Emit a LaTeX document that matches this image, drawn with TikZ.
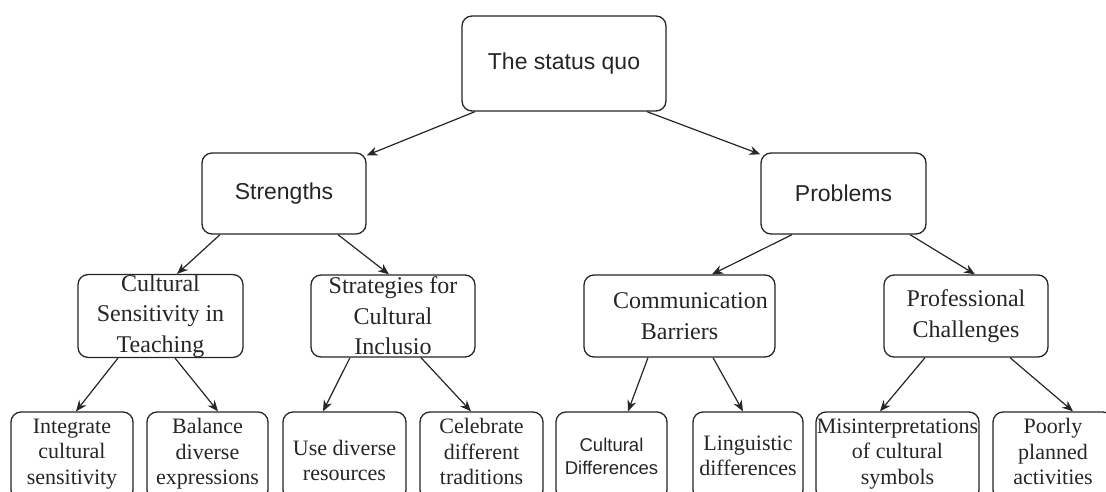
\documentclass[tikz,border=0pt]{standalone}
\usepackage{fontspec}
\setmainfont{Liberation Serif}
\newfontfamily\arialf{Liberation Sans}
\usetikzlibrary{arrows.meta}
\begin{document}
\begin{tikzpicture}[x=1pt,y=-1pt,
  box/.style={draw=black!85, line width=1.3pt, rounded corners=10pt, inner sep=0pt, align=center, text=black!85},
  lvlA/.style={box, font=\arialf\fontsize{23}{28}\selectfont},
  lvlB/.style={box, font=\fontsize{24}{30.5}\selectfont},
  lvlC/.style={box, font=\fontsize{22}{25.5}\selectfont, minimum height=88pt},
  arr/.style={-{Stealth[length=11pt,width=9pt]}, line width=1.2pt, draw=black!85}]
\useasboundingbox (0,0) rectangle (1106,492);
\fill[white] (0,0) rectangle (1106,492);
% level 0 and 1
\node[lvlA, minimum width=204pt, minimum height=95pt] (top) at (564,63.5) {The status quo};
\node[lvlA, minimum width=164pt, minimum height=81pt] (str) at (284,193.5) {Strengths};
\node[lvlA, minimum width=165pt, minimum height=81pt] (prob) at (843.5,193.5) {Problems};
% level 2
\node[lvlB, minimum width=165pt, minimum height=82pt] (cs) at (160.5,316) {Cultural\\Sensitivity in\\Teaching};
\node[lvlB, minimum width=164pt, minimum height=82pt] (strat) at (393,316) {Strategies for\\Cultural\\Inclusio};
\node[lvlB, minimum width=191pt, minimum height=82pt] (comm) at (679.5,316) {\hspace*{22pt}Communication\\Barriers};
\node[lvlB, minimum width=164pt, minimum height=82pt] (prof) at (966,316) {Professional\\Challenges};
% level 3 (boxes run past the lower edge)
\node[lvlC, minimum width=122pt] (integ) at (72,456) {Integrate\\cultural\\sensitivity\rule[-9pt]{0pt}{9pt}};
\node[lvlC, minimum width=121pt] (bal) at (207.5,456) {Balance\\diverse\\expressions\rule[-9pt]{0pt}{9pt}};
\node[lvlC, minimum width=123pt] (use) at (344.5,456) {\rule{0pt}{24pt}Use diverse\\resources};
\node[lvlC, minimum width=123pt] (cel) at (481.5,456) {Celebrate\\different\\traditions\rule[-9pt]{0pt}{9pt}};
\node[lvlC, minimum width=111pt, font=\arialf\fontsize{18.5}{23}\selectfont] (cdiff) at (611.5,456) {Cultural\\Differences};
\node[lvlC, minimum width=110pt] (ling) at (748,456) {Linguistic\\differences};
\node[lvlC, minimum width=163pt] (mis) at (897.5,456) {Misinterpretations\\of cultural\\symbols\rule[-9pt]{0pt}{9pt}};
\node[lvlC, minimum width=120pt] (poor) at (1053,456) {Poorly\\planned\\activities\rule[-9pt]{0pt}{9pt}};
% connectors
\draw[arr] ([xshift=-89pt]top.south) -- ([yshift=-3pt]str.north east);
\draw[arr] ([xshift=83pt]top.south) -- ([yshift=-2pt]prob.north west);
\draw[arr] ([xshift=-64pt]str.south) -- ([xshift=16.5pt]cs.north);
\draw[arr] ([xshift=54pt]str.south) -- ([xshift=-4pt]strat.north);
\draw[arr] ([xshift=-51.5pt]prob.south) -- ([xshift=32.5pt]comm.north);
\draw[arr] ([xshift=66.5pt]prob.south) -- ([xshift=9pt]prof.north);
\draw[arr] ([xshift=-42.5pt]cs.south) -- ([xshift=4pt]integ.north);
\draw[arr] ([xshift=14.5pt]cs.south) -- ([xshift=10.5pt]bal.north);
\draw[arr] ([xshift=-43pt]strat.south) -- ([xshift=-21.5pt]use.north);
\draw[arr] ([xshift=28pt]strat.south) -- ([xshift=-10.5pt]cel.north);
\draw[arr] ([xshift=-31.5pt]comm.south) -- ([xshift=16.5pt]cdiff.north);
\draw[arr] ([xshift=33.5pt]comm.south) -- ([xshift=-5pt]ling.north);
\draw[arr] ([xshift=-41pt]prof.south) -- ([xshift=-17.5pt]mis.north);
\draw[arr] ([xshift=44pt]prof.south) -- ([xshift=20pt]poor.north);
\end{tikzpicture}
\end{document}
